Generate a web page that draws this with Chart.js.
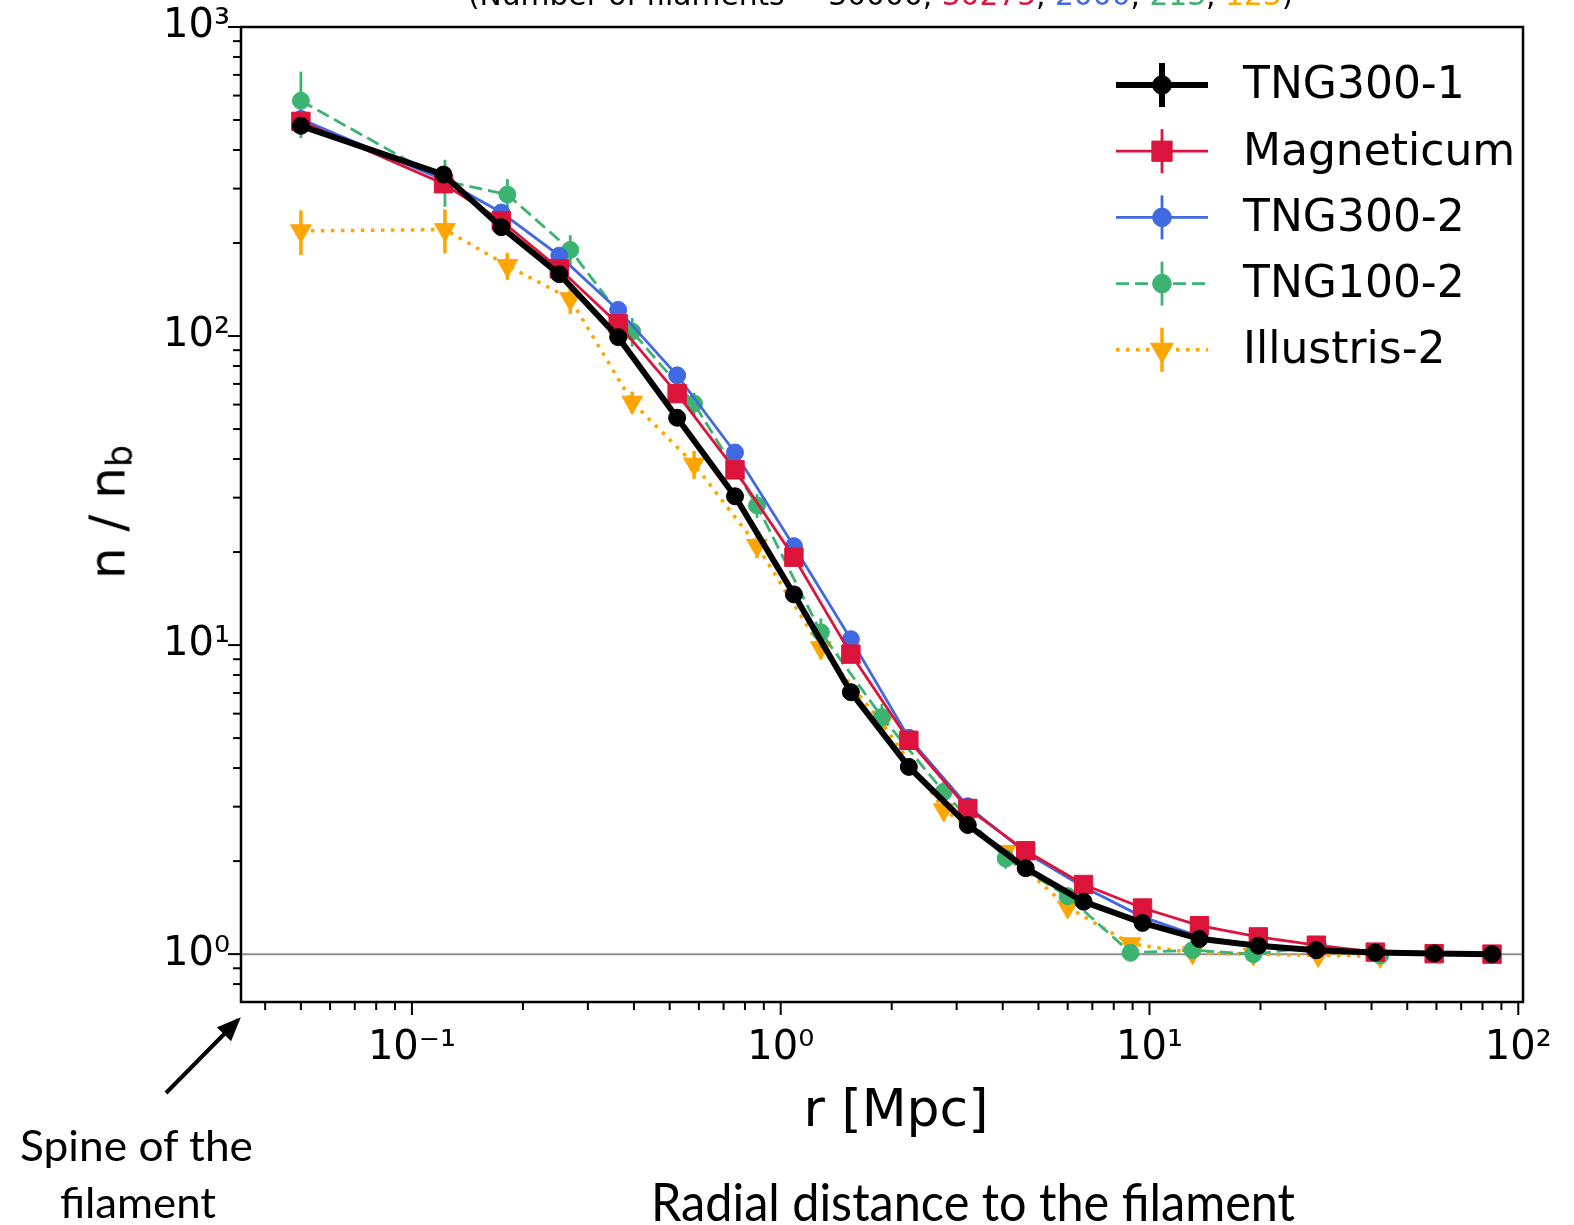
<!DOCTYPE html>
<html lang="en">
<head>
    <meta charset="UTF-8">
    <title>Radial density profile around filaments</title>
    <script src="https://cdn.jsdelivr.net/npm/chart.js"></script>
    <style>
        html, body { margin: 0; padding: 0; background: #fff; }
        body { width: 1574px; height: 1225px; position: relative; overflow: hidden; font-family: 'DejaVu Sans', sans-serif; }
        #wrap { position: absolute; left: 0; top: 0; width: 1574px; height: 1225px; }
        .note { position: absolute; white-space: nowrap; color: #000; line-height: 1; }
        #heading { left: 468px; top: -20px; font-size: 29.7px; }
        #ylab { left: 110px; top: 512px; font-size: 50px; transform: translate(-50%, -50%) rotate(-90deg); }
        #ylab sub { font-size: 0.7em; vertical-align: -0.2em; }
        #xlab { left: 896px; top: 1082px; font-size: 52px; transform: translateX(-50%); }
        .fit { font-family: Lato, 'Open Sans', sans-serif; transform-origin: 0 0; }
        #arrow { position: absolute; left: 0; top: 0; }
    </style>
</head>
<body>
    <div id="wrap"><canvas id="profile"></canvas></div>

    <div class="note" id="heading">(Number of filaments = <span style="color:#000">30000</span>, <span style="color:#dc143c">30275</span>, <span style="color:#4169e1">2000</span>, <span style="color:#3cb371">213</span>, <span style="color:#ffa500">123</span>)</div>
    <div class="note" id="ylab">n / n<sub>b</sub></div>
    <div class="note" id="xlab">r [Mpc]</div>

    <div class="note fit" data-left="20" data-right="253" data-base="1160" style="font-size:42px;">Spine of the</div>
    <div class="note fit" data-left="60" data-right="216" data-base="1217" style="font-size:42px;">filament</div>
    <div class="note fit" data-left="651" data-right="1295" data-base="1220" style="font-size:52px;">Radial distance to the filament</div>

    <svg id="arrow" width="1574" height="1225">
        <defs>
            <marker id="head" markerWidth="6" markerHeight="5" refX="5" refY="2.5" orient="auto">
                <path d="M0,0 L6,2.5 L0,5 z" fill="#000"></path>
            </marker>
        </defs>
        <line x1="166" y1="1093" x2="238" y2="1020" stroke="#000" stroke-width="4" marker-end="url(#head)"></line>
    </svg>

    <script>
    // radial bin centres [Mpc]
    const rTng300 = [0.05, 0.1218, 0.1748, 0.251, 0.3625, 0.5238, 0.7518, 1.086, 1.55, 2.226,
                     3.216, 4.617, 6.628, 9.575, 13.66, 19.73, 28.34, 40.94, 59.15, 84.9];
    const rTng100 = [0.05, 0.1229, 0.1815, 0.2688, 0.3957, 0.5822, 0.8625, 1.285, 1.881, 2.768,
                     4.074, 5.998, 8.885, 13.08, 19.13, 28.68, 42.24];

    // n / n_b profiles
    const nTng300_1   = [479, 333, 225, 158.6, 99.2, 54.4, 30.3, 14.59, 7.04, 4.035,
                         2.617, 1.897, 1.478, 1.262, 1.12, 1.065, 1.03, 1.012, 1.005, 1.0];
    const nMagneticum = [495, 311, 236, 165, 109.5, 65.1, 36.9, 19.25, 9.35, 4.92,
                         2.96, 2.16, 1.68, 1.41, 1.236, 1.137, 1.069, 1.015, 1.003, 1.0];
    const nTng300_2   = [504, 320, 251, 182, 121.5, 74.6, 42.0, 20.9, 10.45, 5.01,
                         3.01, 2.13, 1.65, 1.32, 1.14, 1.07, 1.03, 1.012, 1.005, 1.0];
    const nTng100_2   = [577, 317, 287, 190, 103.4, 60.5, 28.3, 11.0, 5.85, 3.35,
                         2.04, 1.54, 1.01, 1.03, 1.0, 1.06, 0.99];
    const nIllustris2 = [219, 221, 169, 132, 61.1, 38.5, 21.0, 9.8, 5.6, 2.93,
                         2.15, 1.42, 1.08, 1.01, 1.0, 0.99, 0.985];

    // errors (same units as the profiles)
    const eTng300_1   = [12, 8, 5, 3, 2, 1, 0.6, 0.3, 0.15, 0.08, 0.05, 0.03, 0.02, 0.01, 0.01, 0.01, 0.005, 0.005, 0.005, 0.005];
    const eMagneticum = [20, 10, 6, 4, 2.5, 1.5, 0.8, 0.4, 0.2, 0.1, 0.05, 0.03, 0.02, 0.01, 0.01, 0.01, 0.005, 0.005, 0.005, 0.005];
    const eTng300_2   = [20, 10, 6, 4, 2.5, 1.5, 0.8, 0.4, 0.2, 0.1, 0.05, 0.03, 0.02, 0.01, 0.01, 0.01, 0.005, 0.005, 0.005, 0.005];
    const eTng100_2   = [140, 55, 35, 22, 11, 5, 2.5, 1.2, 0.6, 0.3, 0.15, 0.1, 0.05, 0.05, 0.04, 0.04, 0.04];
    const eIllustris2 = [36, 36, 17, 14, 5, 4, 1.9, 0.8, 0.4, 0.2, 0.1, 0.08, 0.05, 0.04, 0.04, 0.04, 0.04];

    const seriesNames = ['TNG300-1', 'Magneticum', 'TNG300-2', 'TNG100-2', 'Illustris-2'];

    const xMajor = [0.1, 1, 10, 100];
    const yMajor = [1, 10, 100, 1000];

    const xRange = [0.0344, 103];
    const yRange = [0.721, 1000];

    function pts(r, n) {
        return r.map((v, i) => ({ x: v, y: n[i] }));
    }

    function minors(lo, hi) {
        const out = [];
        for (let d = -3; d <= 3; d++) {
            for (let k = 2; k <= 9; k++) {
                const v = k * Math.pow(10, d);
                if (v > lo && v < hi) out.push(v);
            }
        }
        return out;
    }

    const supMap = { '-': '\u207B', '0': '\u2070', '1': '\u00B9', '2': '\u00B2', '3': '\u00B3' };
    function powLabel(v) {
        const e = String(Math.round(Math.log10(v)));
        return '10' + e.split('').map(c => supMap[c]).join('');
    }

    // spines, ticks and the n/n_b = 1 reference
    const frame = {
        id: 'frame',
        beforeDatasetsDraw(chart) {
            const { ctx, chartArea: a, scales: { y } } = chart;
            const yy = y.getPixelForValue(1);
            ctx.save();
            ctx.strokeStyle = '#8f8f8f';
            ctx.lineWidth = 2;
            ctx.beginPath();
            ctx.moveTo(a.left, yy);
            ctx.lineTo(a.right, yy);
            ctx.stroke();
            ctx.restore();
        },
        afterDatasetsDraw(chart) {
            const { ctx, chartArea: a, scales: { x, y } } = chart;
            ctx.save();
            ctx.strokeStyle = '#000';
            ctx.lineWidth = 2;
            const tick = (px, py, dx, dy) => {
                ctx.beginPath();
                ctx.moveTo(px, py);
                ctx.lineTo(px + dx, py + dy);
                ctx.stroke();
            };
            xMajor.forEach(v => tick(x.getPixelForValue(v), a.bottom, 0, 13));
            minors(xRange[0], xRange[1]).forEach(v => tick(x.getPixelForValue(v), a.bottom, 0, 8));
            yMajor.forEach(v => tick(a.left, y.getPixelForValue(v), -13, 0));
            minors(yRange[0], yRange[1]).forEach(v => tick(a.left, y.getPixelForValue(v), -8, 0));
            ctx.lineWidth = 2.5;
            ctx.strokeRect(a.left, a.top, a.right - a.left, a.bottom - a.top);
            ctx.restore();
        }
    };

    // vertical error bars, drawn just under each series
    const errBars = {
        id: 'errBars',
        beforeDatasetDraw(chart, args) {
            const ds = chart.data.datasets[args.index];
            if (!ds.errors) return;
            const { ctx, scales: { x, y } } = chart;
            ctx.save();
            ctx.strokeStyle = ds.borderColor;
            ctx.lineWidth = ds.borderWidth;
            ds.data.forEach((p, i) => {
                const px = x.getPixelForValue(p.x);
                const lo = Math.max(p.y - ds.errors[i], yRange[0] * 0.5);
                ctx.beginPath();
                ctx.moveTo(px, y.getPixelForValue(p.y + ds.errors[i]));
                ctx.lineTo(px, y.getPixelForValue(lo));
                ctx.stroke();
            });
            ctx.restore();
        }
    };

    // legend in the upper right, handles with line + error bar + marker
    const keyBox = {
        id: 'keyBox',
        afterDraw(chart) {
            const ctx = chart.ctx;
            const x0 = 1116, x1 = 1208, xm = 1162, xt = 1243;
            chart.data.datasets.forEach((ds, i) => {
                const cy = 85 + i * 66.2;
                ctx.save();
                ctx.strokeStyle = ds.borderColor;
                ctx.fillStyle = ds.backgroundColor;
                ctx.lineWidth = ds.borderWidth;
                ctx.setLineDash(ds.borderDash || []);
                ctx.beginPath();
                ctx.moveTo(x0, cy);
                ctx.lineTo(x1, cy);
                ctx.stroke();
                ctx.setLineDash([]);
                ctx.beginPath();
                ctx.moveTo(xm, cy - 22);
                ctx.lineTo(xm, cy + 22);
                ctx.stroke();
                ctx.lineWidth = 1;
                Chart.helpers.drawPoint(ctx, {
                    pointStyle: ds.pointStyle,
                    rotation: ds.pointRotation || 0,
                    radius: ds.pointRadius * 1.1,
                    borderWidth: 1
                }, xm, cy);
                ctx.fillStyle = '#000';
                ctx.font = "44px 'DejaVu Sans'";
                ctx.textBaseline = 'middle';
                ctx.fillText(seriesNames[i], xt, cy + 2);
                ctx.restore();
            });
        }
    };

    Chart.defaults.font.family = "'DejaVu Sans', sans-serif";
    Chart.defaults.color = '#000';

    const common = { tension: 0, pointBorderWidth: 1, pointHoverRadius: 0, fill: false };

    new Chart(document.getElementById('profile'), {
        type: 'line',
        data: {
            datasets: [
                Object.assign({
                    label: seriesNames[0], data: pts(rTng300, nTng300_1), errors: eTng300_1,
                    borderColor: '#000000', backgroundColor: '#000000', borderWidth: 6,
                    pointStyle: 'circle', pointRadius: 8.5
                }, common),
                Object.assign({
                    label: seriesNames[1], data: pts(rTng300, nMagneticum), errors: eMagneticum,
                    borderColor: '#dc143c', backgroundColor: '#dc143c', borderWidth: 2.8,
                    pointStyle: 'rect', pointRadius: 13
                }, common),
                Object.assign({
                    label: seriesNames[2], data: pts(rTng300, nTng300_2), errors: eTng300_2,
                    borderColor: '#4169e1', backgroundColor: '#4169e1', borderWidth: 2.8,
                    pointStyle: 'circle', pointRadius: 8.5
                }, common),
                Object.assign({
                    label: seriesNames[3], data: pts(rTng100, nTng100_2), errors: eTng100_2,
                    borderColor: '#3cb371', backgroundColor: '#3cb371', borderWidth: 2.8,
                    borderDash: [13, 6], pointStyle: 'circle', pointRadius: 8.5
                }, common),
                Object.assign({
                    label: seriesNames[4], data: pts(rTng100, nIllustris2), errors: eIllustris2,
                    borderColor: '#ffa500', backgroundColor: '#ffa500', borderWidth: 3.5,
                    borderDash: [3.5, 6.5], pointStyle: 'triangle', pointRotation: 180, pointRadius: 12
                }, common)
            ]
        },
        options: {
            responsive: true,
            maintainAspectRatio: false,
            animation: false,
            events: [],
            layout: { padding: { top: 27, right: 51, left: 0, bottom: 0 } },
            plugins: { legend: { display: false }, tooltip: { enabled: false } },
            scales: {
                x: {
                    type: 'logarithmic',
                    position: 'bottom',
                    min: xRange[0],
                    max: xRange[1],
                    // tick marks are drawn by the frame plugin; tickLength only spaces the labels
                    grid: { display: false, drawTicks: true, tickLength: 23 },
                    border: { display: false },
                    afterBuildTicks: s => { s.ticks = xMajor.map(v => ({ value: v })); },
                    afterFit: s => { s.height = 223; },
                    ticks: {
                        autoSkip: false, maxRotation: 0, padding: 0,
                        font: { size: 40 },
                        callback: v => powLabel(v)
                    }
                },
                y: {
                    type: 'logarithmic',
                    min: yRange[0],
                    max: yRange[1],
                    grid: { display: false, drawTicks: true, tickLength: 11 },
                    border: { display: false },
                    afterBuildTicks: s => { s.ticks = yMajor.map(v => ({ value: v })); },
                    afterFit: s => { s.width = 241; },
                    ticks: {
                        autoSkip: false, padding: 0,
                        font: { size: 40 },
                        callback: v => powLabel(v)
                    }
                }
            }
        },
        plugins: [frame, errBars, keyBox]
    });

    // fit the free annotation lines to their measured extents
    document.querySelectorAll('.fit').forEach(el => {
        const left = +el.dataset.left, right = +el.dataset.right, base = +el.dataset.base;
        const fs = parseFloat(el.style.fontSize);
        const w = el.getBoundingClientRect().width;
        el.style.left = left + 'px';
        el.style.top = (base - fs * 0.86) + 'px';
        el.style.transform = 'scaleX(' + ((right - left) / w).toFixed(4) + ')';
    });
    </script>
</body>
</html>
